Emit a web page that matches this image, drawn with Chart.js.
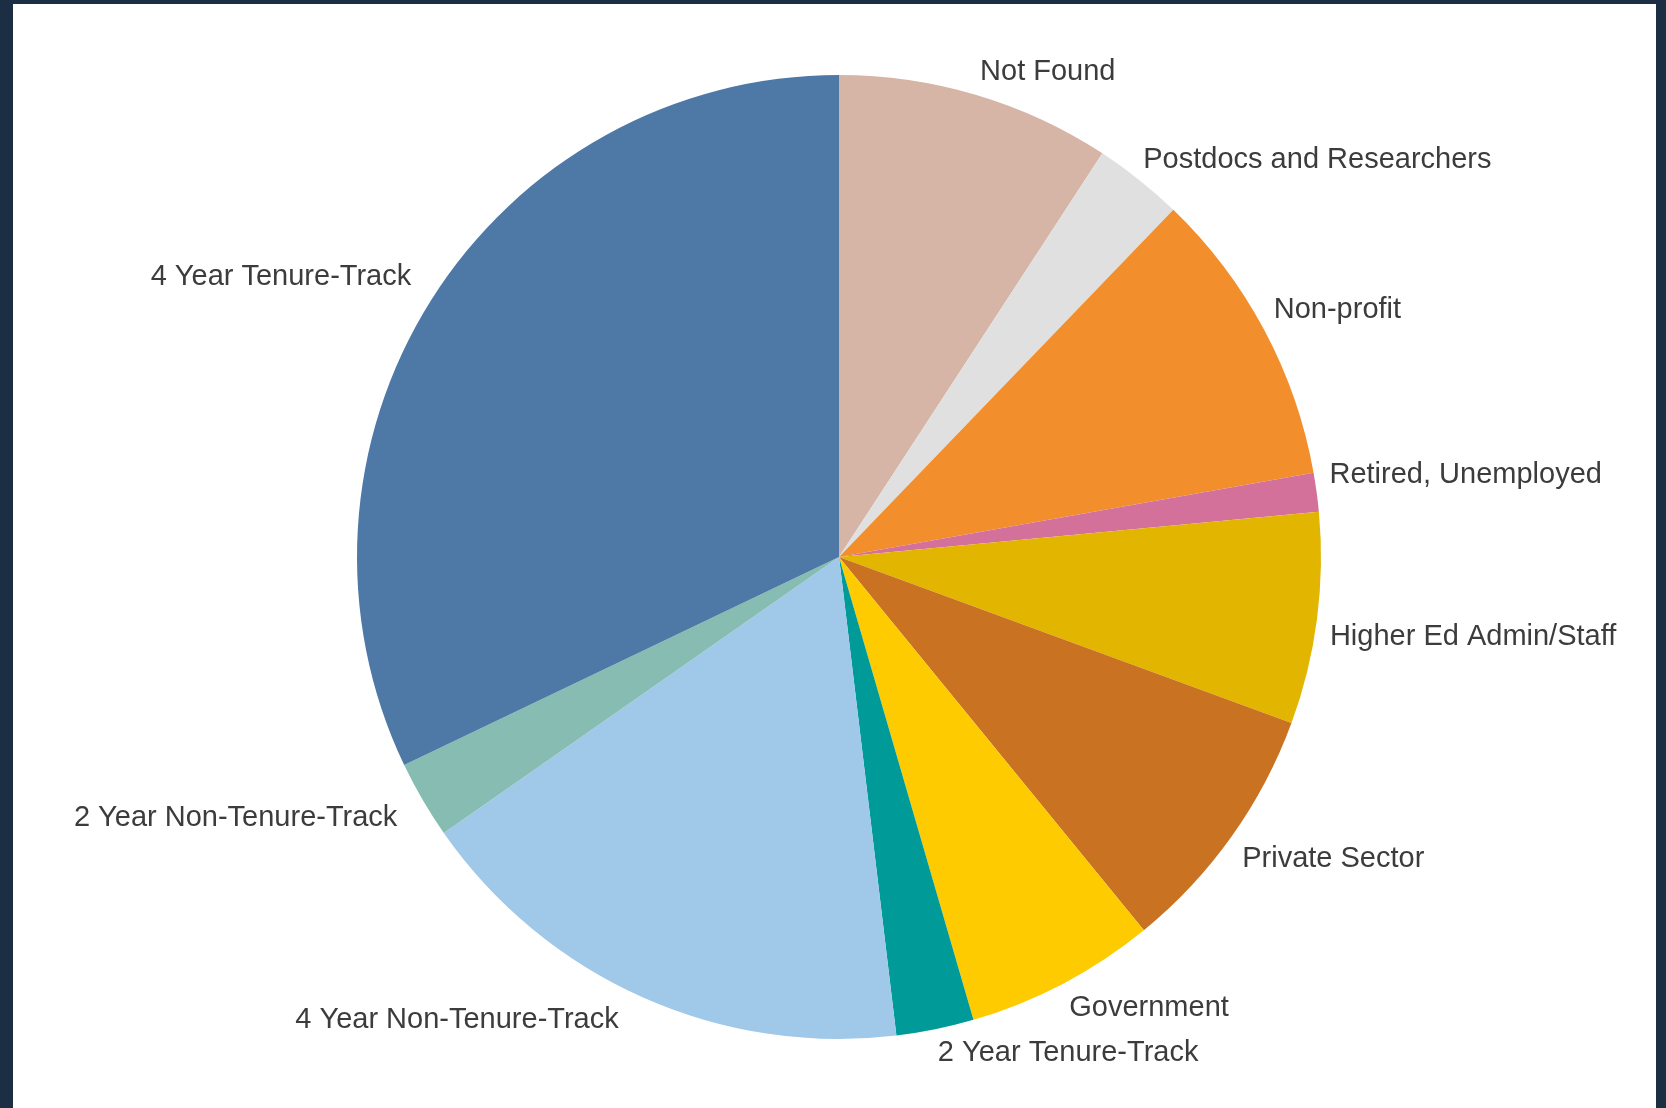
<!DOCTYPE html>
<html>
<head>
<meta charset="utf-8">
<title>Career outcomes</title>
<script src="https://cdn.jsdelivr.net/npm/chart.js@4"></script>
<style>
  html, body {
    margin: 0;
    padding: 0;
    background: #1b2e44;
    overflow: hidden;
  }
  #frame {
    position: absolute;
    left: 13px;
    top: 4px;
    width: 1643px;
    height: 1104px;
    background: #ffffff;
  }
</style>
</head>
<body>
<div id="frame">
  <canvas id="outcome-chart"></canvas>
</div>
<script>
// Share of graduates by current position (percent)
const categories = [
    'Not Found',
    'Postdocs and Researchers',
    'Non-profit',
    'Retired, Unemployed',
    'Higher Ed Admin/Staff',
    'Private Sector',
    'Government',
    '2 Year Tenure-Track',
    '4 Year Non-Tenure-Track',
    '2 Year Non-Tenure-Track',
    '4 Year Tenure-Track'
];
const shares = [9.2, 3.0, 10.0, 1.3, 7.1, 8.5, 6.4, 2.6, 17.2, 2.6, 32.1];
const sliceColors = [
    '#d6b4a6', '#e0e0e0', '#f28e2c', '#d4719a', '#e2b500', '#c97322',
    '#fdcb00', '#009b98', '#a0c8e8', '#86bcb1', '#4e78a6'
];

const labelFont = 29;

// small hand tweaks so neighbouring labels don't crowd each other
const labelNudge = {
    'Not Found': [0, -3],
    'Postdocs and Researchers': [-4, -2],
    'Non-profit': [-2, -6],
    'Retired, Unemployed': [0, -7],
    'Higher Ed Admin/Staff': [0, 4],
    'Private Sector': [0, 2],
    '2 Year Tenure-Track': [0, -2],
    '4 Year Non-Tenure-Track': [-18, -2],
    '2 Year Non-Tenure-Track': [-14, -1],
    '4 Year Tenure-Track': [-9, -8]
};

// Puts each category name just outside its slice, at the slice's middle angle
const outsideLabels = {
    id: 'outsideLabels',
    afterDatasetsDraw(chart) {
        const c = chart.ctx;
        const arcs = chart.getDatasetMeta(0).data;
        c.save();
        c.font = labelFont + 'px "Liberation Sans", Arial, sans-serif';
        c.fillStyle = '#3c3c3c';
        c.textBaseline = 'alphabetic';
        arcs.forEach((arc, i) => {
            const p = arc.getProps(['x', 'y', 'startAngle', 'endAngle', 'outerRadius'], true);
            const mid = (p.startAngle + p.endAngle) / 2;
            const r = p.outerRadius + 13;
            const nudge = labelNudge[categories[i]] || [0, 0];
            const x = p.x + Math.cos(mid) * r + nudge[0];
            let y = p.y + Math.sin(mid) * r + nudge[1];
            c.textAlign = Math.cos(mid) >= 0 ? 'left' : 'right';
            if (Math.sin(mid) > 0) {
                y += labelFont * 0.72;
            }
            c.fillText(categories[i], x, y);
        });
        c.restore();
    }
};

const ctx = document.getElementById('outcome-chart').getContext('2d');

new Chart(ctx, {
    type: 'pie',
    data: {
        labels: categories,
        datasets: [{
            data: shares,
            backgroundColor: sliceColors,
            borderWidth: 0
        }]
    },
    options: {
        responsive: true,
        maintainAspectRatio: false,
        animation: false,
        layout: {
            padding: { left: 344, right: 335, top: 71, bottom: 69 }
        },
        plugins: {
            legend: { display: false },
            tooltip: { enabled: false }
        }
    },
    plugins: [outsideLabels]
});
</script>
</body>
</html>
